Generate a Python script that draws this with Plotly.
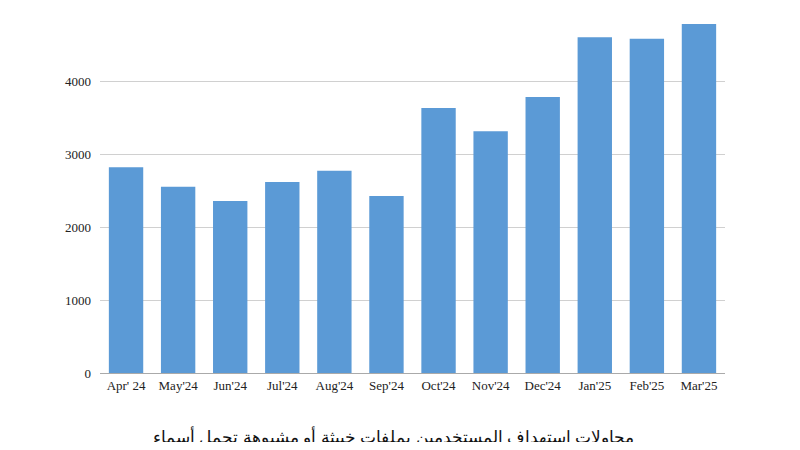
import plotly.graph_objects as go

months = ["Apr' 24", "May'24", "Jun'24", "Jul'24", "Aug'24", "Sep'24",
          "Oct'24", "Nov'24", "Dec'24", "Jan'25", "Feb'25", "Mar'25"]
attempts = [2820, 2550, 2355, 2615, 2770, 2425, 3630, 3310, 3780, 4600, 4580, 4780]
y_ticks = [0, 1000, 2000, 3000, 4000, 5000]
title = "محاولات استهداف المستخدمين بملفات خبيثة أو مشبوهة تحمل أسماء"

fig = go.Figure(go.Bar(x=months, y=attempts, marker_color="#5b9ad6", marker_line_width=0))

fig.update_layout(
    width=784, height=434,
    margin=dict(l=92, r=67, t=0, b=69),
    plot_bgcolor="white", paper_bgcolor="white",
    bargap=0.34,
    font=dict(family="Liberation Serif", size=13, color="#222"),
    showlegend=False,
)
fig.update_xaxes(showgrid=False, ticks="", showline=True, linecolor="#aaa")
fig.update_yaxes(range=[0, 5000], tickvals=y_ticks, gridcolor="#d0d0d0",
                 zeroline=False, ticks="", ticklabelstandoff=8)
fig.add_annotation(text=title, xref="paper", yref="paper", x=0.47, y=-0.175,
                   yanchor="middle", showarrow=False,
                   font=dict(family="Noto Sans", size=17, color="#111"))

fig.write_html("out.html")
